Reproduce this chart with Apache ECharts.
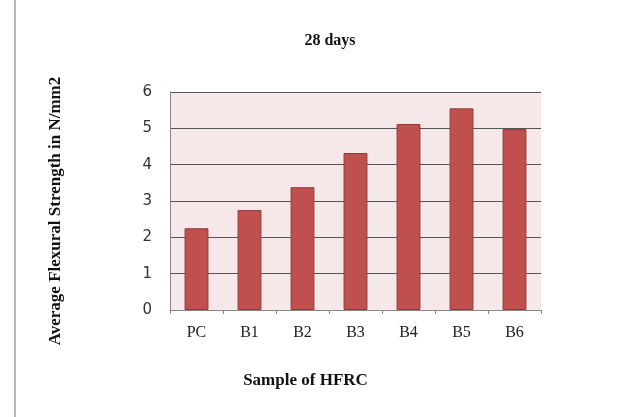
<!DOCTYPE html>
<html>
<head>
<meta charset="utf-8">
<script src="https://cdn.jsdelivr.net/npm/echarts@6/dist/echarts.min.js"></script>
<style>
  html, body { margin: 0; padding: 0; background: #ffffff; }
  #frame { position: absolute; left: 14px; top: 0; width: 2px; height: 417px; background: #b8b8b8; }
  #chart { width: 624px; height: 417px; }
</style>
</head>
<body>
<div id="frame"></div>
<div id="chart"></div>
<script>
// sample names and 28 day flexural strength values
const samples = ['PC', 'B1', 'B2', 'B3', 'B4', 'B5', 'B6'];
const strength = [2.25, 2.75, 3.38, 4.32, 5.12, 5.55, 4.98];

const chart = echarts.init(document.getElementById('chart'));

const serif = '"Liberation Serif", "DejaVu Serif", serif';

const option = {
  animation: false,
  title: {
    text: '28 days',
    left: 325,
    top: 28,
    textAlign: 'center',
    textStyle: { fontFamily: serif, fontWeight: 'bold', fontSize: 16, color: '#111' }
  },
  grid: {
    left: 170,
    right: 83,
    top: 92,
    bottom: 107,
    show: true,
    backgroundColor: '#f6e7e9',
    borderWidth: 0
  },
  xAxis: {
    type: 'category',
    data: samples,
    name: 'Sample of HFRC',
    nameLocation: 'middle',
    nameGap: 62,
    nameTextStyle: { fontFamily: serif, fontWeight: 'bold', fontSize: 17, color: '#111', padding: [0, 100, 0, 0] },
    axisLine: { lineStyle: { color: '#888', width: 1 } },
    axisTick: { show: true, length: 4, lineStyle: { color: '#888' } },
    axisLabel: { fontFamily: serif, fontSize: 16, color: '#222', margin: 15 }
  },
  yAxis: {
    type: 'value',
    min: 0,
    max: 6,
    interval: 1,
    name: 'Average Flexural Strength in N/mm2',
    nameLocation: 'middle',
    nameGap: 106,
    nameTextStyle: { fontFamily: serif, fontWeight: 'bold', fontSize: 17, color: '#111', padding: [0, 20, 0, 0] },
    axisLine: { show: true, lineStyle: { color: '#888', width: 1 } },
    axisTick: { show: false },
    axisLabel: { fontFamily: '"DejaVu Sans", Verdana, sans-serif', fontSize: 15, color: '#333', margin: 18 },
    splitLine: { lineStyle: { color: '#555', width: 1 } }
  },
  series: [{
    type: 'bar',
    data: strength,
    barWidth: '45%',
    itemStyle: { color: '#c0504d', borderColor: '#8f3a38', borderWidth: 1 }
  }]
};

chart.setOption(option);
</script>
</body>
</html>
